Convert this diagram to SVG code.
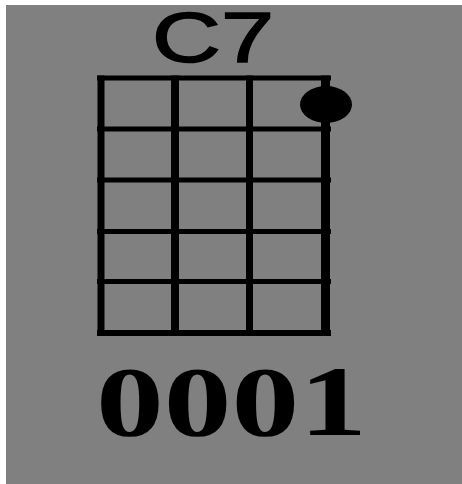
<svg xmlns="http://www.w3.org/2000/svg" width="462" height="484" viewBox="0 0 462 484">
<style>
.v{fill:#000}
.h{fill:#000}
.t{font-family:"Liberation Sans",Arial,sans-serif;fill:#000;stroke:#000;stroke-width:1.5}
.n{font-family:"Liberation Serif","Times New Roman",serif;font-weight:bold;fill:#000}
</style>
<rect x="0" y="0" width="462" height="484" fill="#ffffff"/>
<rect x="6" y="5" width="456" height="479" fill="#808080"/>
<g id="title">
<text class="t" x="152" y="62" font-size="70" textLength="122" lengthAdjust="spacingAndGlyphs">C7</text>
</g>
<g id="grid">
<rect class="h" x="97" y="75.5" width="234" height="5"/>
<rect class="h" x="97" y="126.5" width="234" height="5"/>
<rect class="h" x="97" y="177.5" width="234" height="5"/>
<rect class="h" x="97" y="229" width="234" height="5"/>
<rect class="h" x="97" y="279" width="234" height="5"/>
<rect class="h" x="97" y="330" width="234" height="6"/>
<rect class="v" x="97.5" y="75.5" width="7" height="260.5"/>
<rect class="v" x="171" y="75.5" width="8" height="260.5"/>
<rect class="v" x="246" y="75.5" width="7" height="260.5"/>
<rect class="v" x="321" y="75.5" width="9" height="260.5"/>
</g>
<g id="dot">
<ellipse cx="326" cy="104.5" rx="26" ry="18.5" fill="#000"/>
</g>
<g id="fingering">
<text class="n" x="96" y="435" font-size="100" textLength="271" lengthAdjust="spacingAndGlyphs">0001</text>
</g>
</svg>
